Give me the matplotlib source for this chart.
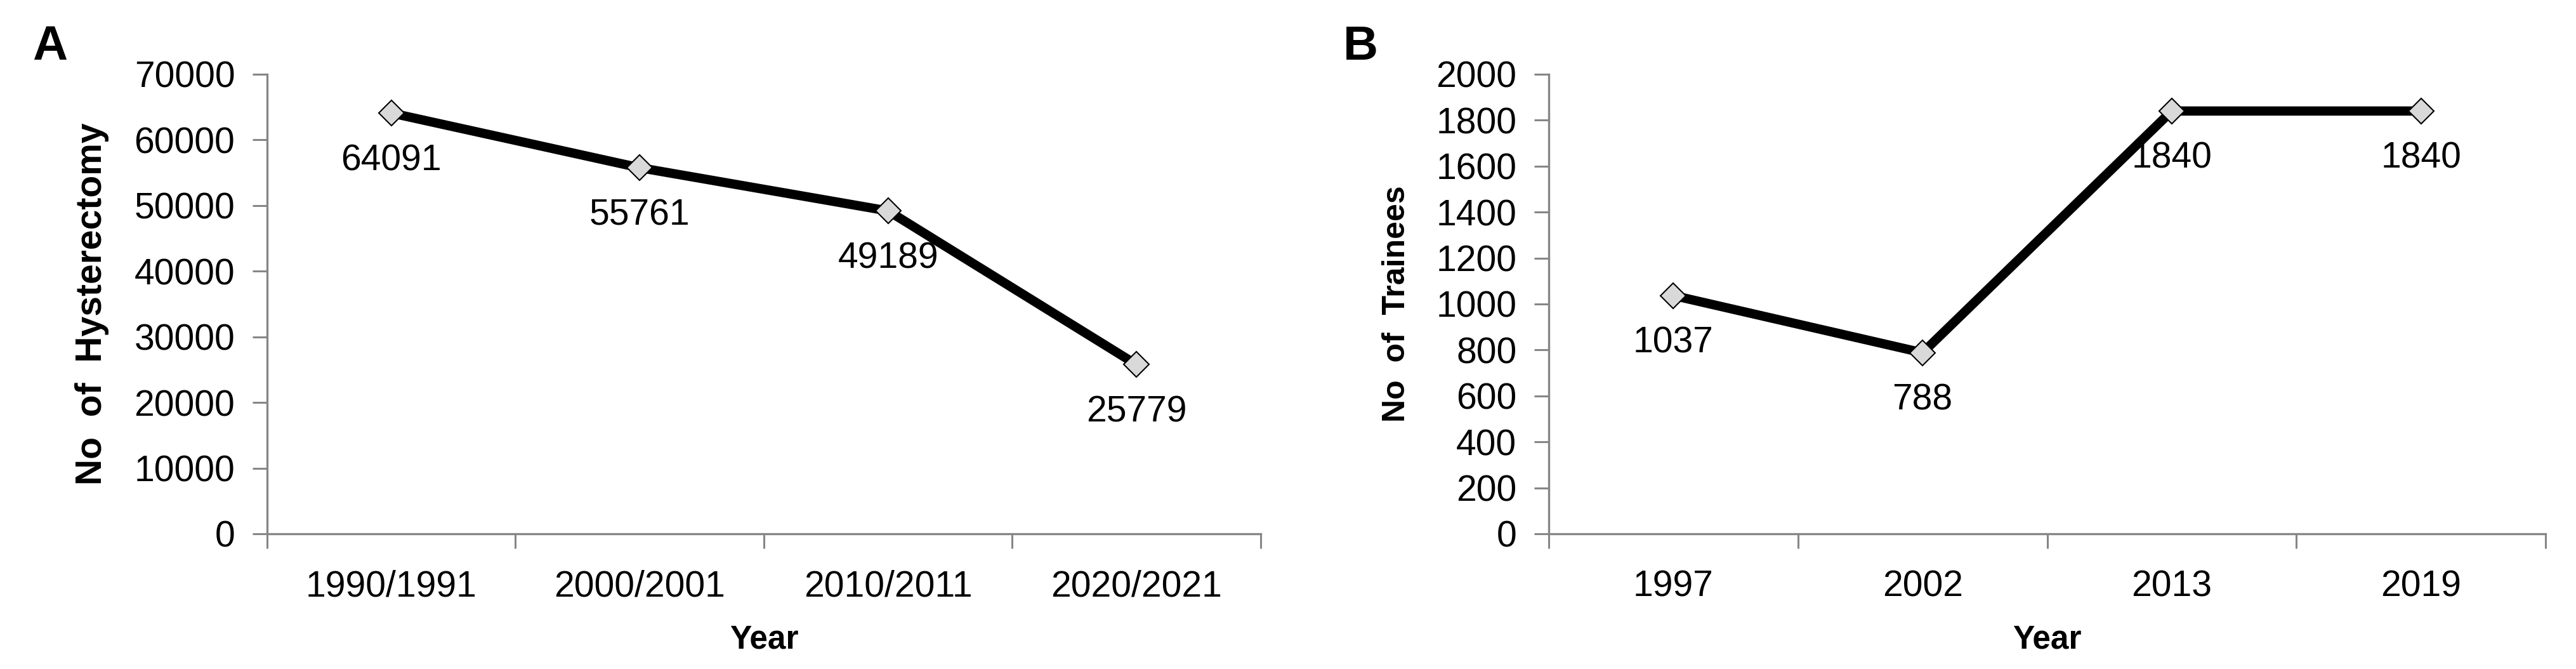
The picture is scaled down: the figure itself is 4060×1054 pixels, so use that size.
import matplotlib
matplotlib.use("Agg")
import matplotlib.pyplot as plt

# data
years_a = ["1990/1991", "2000/2001", "2010/2011", "2020/2021"]
hysterectomy = [64091, 55761, 49189, 25779]

years_b = ["1997", "2002", "2013", "2019"]
trainees = [1037, 788, 1840, 1840]

plt.rcParams["font.family"] = ["Liberation Sans", "DejaVu Sans"]

axis_grey = "#868686"


def draw_panel(ax, cats, vals, ymax, ystep, ylabel, ylabel_size, ylabel_x):
    x = list(range(1, len(cats) + 1))
    ax.plot(x, vals, color="black", lw=10.5, solid_capstyle="butt", zorder=3)
    ax.plot(x, vals, ls="none", marker="D", ms=20, mfc="#d9d9d9",
            mec="black", mew=1.5, zorder=4, clip_on=False)

    # data labels below the points
    for xi, v in zip(x, vals):
        ax.annotate(str(v), (xi, v), xytext=(0, -54), textcoords="offset points",
                    ha="center", va="center", fontsize=41)

    ax.set_xlim(0.5, len(cats) + 0.5)
    ax.set_ylim(0, ymax)
    ax.set_yticks(range(0, ymax + 1, ystep))

    # category ticks at boundaries, labels at centres
    ax.set_xticks([i + 0.5 for i in range(len(cats) + 1)])
    ax.set_xticklabels([])
    ax.set_xticks(x, minor=True)
    ax.set_xticklabels(cats, minor=True)
    ax.tick_params(axis="x", which="major", direction="out", length=16.5,
                   width=2.2, color=axis_grey)
    ax.tick_params(axis="x", which="minor", length=0, pad=60, labelsize=41)
    for lab in ax.get_xticklabels(minor=True):
        lab.set_va("center")
    ax.tick_params(axis="y", direction="out", length=16.5, width=2.2,
                   color=axis_grey, pad=20, labelsize=41)

    for side in ["top", "right"]:
        ax.spines[side].set_visible(False)
    for side in ["left", "bottom"]:
        ax.spines[side].set_color(axis_grey)
        ax.spines[side].set_linewidth(2.4)

    ax.set_xlabel("Year", fontsize=37, fontweight="bold")
    ax.xaxis.label.set_va("center")
    ax.xaxis.set_label_coords(0.5, -0.2307)
    ax.set_ylabel(ylabel, fontsize=ylabel_size, fontweight="bold")
    ax.yaxis.label.set_va("center")
    ax.yaxis.set_label_coords(ylabel_x, 0.5)


fig = plt.figure(figsize=(40.6, 10.54), dpi=100)
ax1 = fig.add_axes([0.10369, 0.20209, 0.38571, 0.68691])
ax2 = fig.add_axes([0.60123, 0.20209, 0.38695, 0.68691])

draw_panel(ax1, years_a, hysterectomy, 70000, 10000, "No  of  Hysterectomy", 41, -0.1762)
draw_panel(ax2, years_b, trainees, 2000, 200, "No  of  Trainees", 36, -0.1528)

fig.text(79 / 4060, 1 - 74 / 1054, "A", fontsize=55, fontweight="bold",
         ha="center", va="center")
fig.text(2144 / 4060, 1 - 74 / 1054, "B", fontsize=55, fontweight="bold",
         ha="center", va="center")

fig.savefig("out.png", dpi=100, facecolor="white")
